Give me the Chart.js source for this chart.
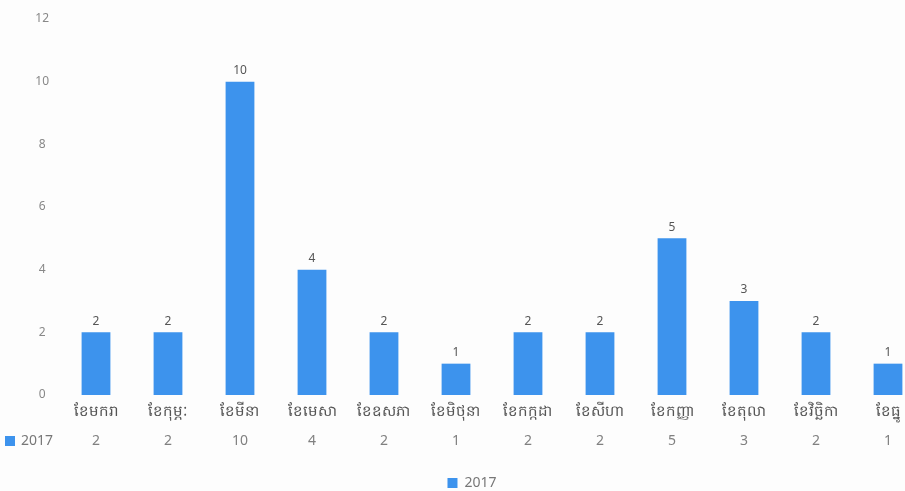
<!DOCTYPE html>
<html>
<head>
<meta charset="utf-8">
<script src="https://cdn.jsdelivr.net/npm/chart.js@4"></script>
<style>
    html, body { margin: 0; padding: 0; background: #fdfdfd; overflow: hidden; }
    #wrap { width: 926px; height: 491px; position: relative; }
</style>
</head>
<body>
<div id="wrap"><canvas id="myChart"></canvas></div>
<script>
// 데이터
const months = ['ខែមករា', 'ខែកុម្ភៈ', 'ខែមីនា', 'ខែមេសា', 'ខែឧសភា', 'ខែមិថុនា',
    'ខែកក្កដា', 'ខែសីហា', 'ខែកញ្ញា', 'ខែតុលា', 'ខែវិច្ឆិកា', 'ខែធ្នូ'];
const seriesName = '2017';
const values2017 = [2, 2, 10, 4, 2, 1, 2, 2, 5, 3, 2, 1];
const yTicks = [0, 2, 4, 6, 8, 10, 12];

const BAR_COLOR = '#3d93ed';
const FONT = "'Noto Sans', 'DejaVu Sans', sans-serif";

// 막대 위 숫자 + 아래 데이터 표
const labelsPlugin = {
    id: 'labelsPlugin',
    afterDatasetsDraw(chart) {
        const ctx = chart.ctx;
        const meta = chart.getDatasetMeta(0);
        ctx.save();
        ctx.font = '12px ' + FONT;
        ctx.fillStyle = '#555';
        ctx.textAlign = 'center';
        ctx.textBaseline = 'bottom';
        meta.data.forEach((bar, i) => {
            ctx.fillText(values2017[i], bar.x, bar.y - 5);
        });

        // 데이터 표 (one row)
        const rowY = 441;
        const xs = chart.scales.x;
        ctx.fillStyle = '#808080';
        ctx.textBaseline = 'middle';
        ctx.font = '14px ' + FONT;
        values2017.forEach((v, i) => {
            ctx.fillText(v, xs.getPixelForValue(i), rowY);
        });
        ctx.fillStyle = BAR_COLOR;
        ctx.fillRect(5, rowY - 5, 10, 10);
        ctx.fillStyle = '#777';
        ctx.textAlign = 'left';
        ctx.fillText(seriesName, 21, rowY);
        ctx.restore();
    }
};

const data = {
    labels: months,
    datasets: [{
        label: seriesName,
        data: values2017,
        backgroundColor: BAR_COLOR,
        borderWidth: 0,
        barPercentage: 0.4,
        categoryPercentage: 1.0,
    }],
};

const config = {
    type: 'bar',
    data: data,
    options: {
        responsive: true,
        maintainAspectRatio: false,
        animation: false,
        layout: {
            padding: { left: 20, right: 2, top: 19, bottom: -9 },
        },
        plugins: {
            legend: {
                position: 'bottom',
                labels: {
                    boxWidth: 10,
                    boxHeight: 10,
                    color: '#777',
                    padding: 2,
                    font: { family: FONT, size: 14 },
                },
            },
            tooltip: { enabled: false },
        },
        scales: {
            y: {
                min: 0,
                max: 12,
                afterFit(scale) { scale.width = 40; },
                afterBuildTicks(scale) { scale.ticks = yTicks.map(v => ({ value: v })); },
                grid: { display: false },
                border: { display: false },
                ticks: {
                    color: '#888',
                    crossAlign: 'center',
                    font: { family: FONT, size: 12 },
                },
            },
            x: {
                afterFit(scale) { scale.height += 53; }, // 표 자리
                grid: { display: false },
                border: { display: false },
                ticks: {
                    color: '#555',
                    padding: 0,
                    maxRotation: 0,
                    autoSkip: false,
                    font: { family: FONT, size: 15 },
                },
            },
        },
    },
    plugins: [labelsPlugin],
};

const myChart = new Chart(document.getElementById('myChart'), config);
</script>
</body>
</html>
